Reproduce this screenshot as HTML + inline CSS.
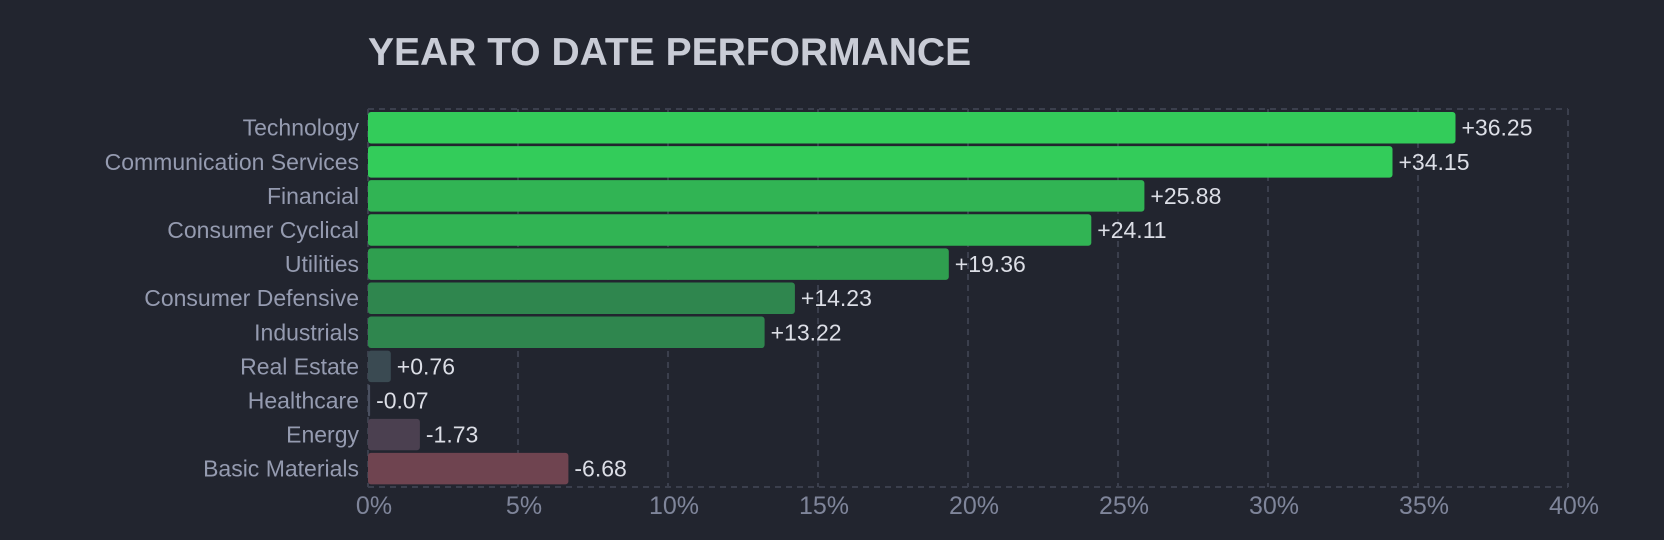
<!DOCTYPE html>
<html><head><meta charset="utf-8"><style>
html,body{margin:0;padding:0;background:#22252f;width:1664px;height:540px;overflow:hidden}
svg{display:block;font-family:"Liberation Sans",sans-serif}
</style></head><body>
<svg id="chart" width="1664" height="540" viewBox="0 0 1664 540">
<text x="368" y="65" font-size="39" font-weight="bold" fill="#c9ccd6">YEAR TO DATE PERFORMANCE</text>
<g id="grid"></g><g id="bars"></g><g id="labels"></g>
</svg>
<script>
const categories=["Technology","Communication Services","Financial","Consumer Cyclical","Utilities","Consumer Defensive","Industrials","Real Estate","Healthcare","Energy","Basic Materials"];
const values=[36.25,34.15,25.88,24.11,19.36,14.23,13.22,0.76,-0.07,-1.73,-6.68];
const ticks=[0,5,10,15,20,25,30,35,40];
const tickLabels=["0%","5%","10%","15%","20%","25%","30%","35%","40%"];
const colors=["#33cc5a","#33cc5a","#31b454","#31b454","#2f9f4f","#2f864e","#2f864e","#3a4a52","#4a5060","#4b4050","#6f4450"];
{
const NS="http://www.w3.org/2000/svg";
const L=368,R=1568,T=109,B=487;
const x=v=>L+(v/40)*(R-L);
const band=(B-T-3)/categories.length;
const y=i=>T+3+i*band;
function mk(tag,attrs,parent){const e=document.createElementNS(NS,tag);for(const k in attrs)e.setAttribute(k,attrs[k]);parent.appendChild(e);return e;}
const grid=document.getElementById('grid'),bars=document.getElementById('bars'),labels=document.getElementById('labels');
const dash={stroke:"#3b3f4d","stroke-width":2,"stroke-dasharray":"6,5"};
ticks.forEach((t,i)=>{
  const ln=mk('line',Object.assign({x1:x(t),x2:x(t),y1:T,y2:B},dash),grid);
  
  
  const tx=mk('text',{x:x(t)+6,y:514,"text-anchor":"middle","font-size":25,fill:"#7f859a"},labels);
  tx.textContent=tickLabels[i];
  
  
});
const topBorder=mk('line',Object.assign({x1:L,x2:R,y1:T,y2:T},dash),grid);


const botBorder=mk('line',Object.assign({x1:L,x2:R,y1:B,y2:B},dash),grid);


categories.forEach((c,i)=>{
  const v=values[i],w=Math.max(x(Math.abs(v))-L,2),yy=y(i),h=band-2.6;
  const r=mk('rect',{x:L,y:yy,width:w,height:h,rx:w>6?3:1,fill:colors[i]},bars);
  
  
  const cl=mk('text',{x:359,y:yy+h/2+8,"text-anchor":"end","font-size":23,fill:"#959bb0"},labels);
  cl.textContent=c;
  
  
  const vl=mk('text',{x:L+w+6,y:yy+h/2+8,"font-size":23,fill:"#dcdee6"},labels);
  vl.textContent=(v>=0?"+":"")+v.toFixed(2);
  
  
});
}
</script>
</body></html>
